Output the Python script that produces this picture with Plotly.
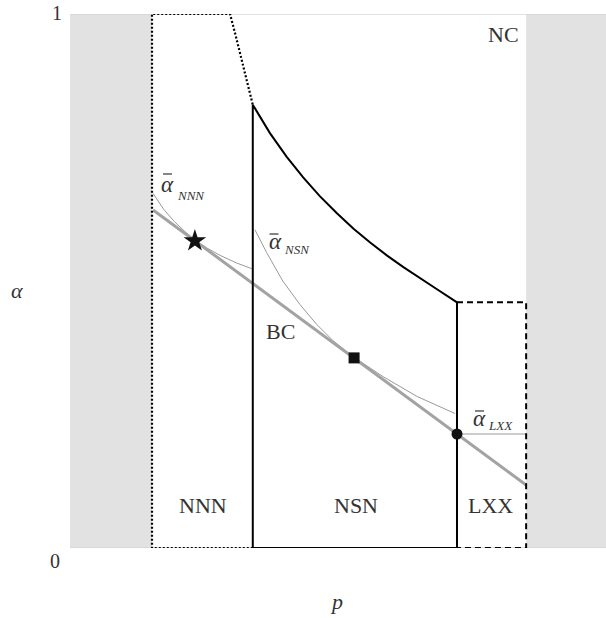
import plotly.graph_objects as go

# ---- data (p on x, alpha on y; both in [0,1]) ----
grey_left = [0.0, 0.153]
grey_right = [0.851, 1.0]

# NNN region outline (dotted)
nnn_p = [0.341, 0.153, 0.153, 0.2985, 0.309, 0.320, 0.3305, 0.341]
nnn_a = [0.0, 0.0, 1.0, 1.0, 0.960, 0.915, 0.873, 0.830]

# NSN region outline (solid): upper boundary curve
nsn_p = [0.341, 0.373, 0.404, 0.435, 0.466, 0.498, 0.529, 0.560, 0.591, 0.622, 0.653, 0.684, 0.722]
nsn_a = [0.830, 0.777, 0.733, 0.694, 0.659, 0.627, 0.598, 0.572, 0.548, 0.526, 0.505, 0.485, 0.460]

# LXX region outline (dashed)
lxx_p = [0.722, 0.851, 0.851, 0.722]
lxx_a = [0.460, 0.460, 0.0, 0.0]

# thick grey line (BC boundary)
bc_p = [0.155, 0.851]
bc_a = [0.633, 0.118]

# thin grey curves
nnnbar_p = [0.155, 0.175, 0.195, 0.215, 0.233, 0.255, 0.280, 0.310, 0.342]
nnnbar_a = [0.664, 0.634, 0.611, 0.592, 0.577, 0.562, 0.548, 0.534, 0.522]
nsnbar_p = [0.345, 0.367, 0.397, 0.429, 0.460, 0.491, 0.530, 0.584, 0.647, 0.718]
nsnbar_a = [0.596, 0.553, 0.500, 0.456, 0.419, 0.388, 0.357, 0.321, 0.284, 0.252]
lxxbar_p = [0.722, 0.851]
lxxbar_a = [0.2135, 0.2135]

# tangency markers
star_pt = (0.233, 0.575)
square_pt = (0.530, 0.356)
circle_pt = (0.722, 0.2135)

# region labels
region_labels = ["NC", "NNN", "NSN", "LXX", "BC"]
region_label_p = [0.809, 0.248, 0.533, 0.785, 0.392]
region_label_a = [0.961, 0.079, 0.079, 0.079, 0.405]

# bar-alpha curve labels
curve_labels = ["NNN", "NSN", "LXX"]
curve_alpha_p = [0.1660, 0.3675, 0.7480]
curve_alpha_a = [0.6816, 0.5749, 0.2434]
curve_sub_p = [0.1960, 0.3955, 0.7770]
curve_sub_a = [0.6607, 0.5599, 0.2285]
curve_bar_p0 = [0.1735, 0.3722, 0.7556]
curve_bar_p1 = [0.1903, 0.3890, 0.7724]
curve_bar_a = [0.7004, 0.5880, 0.2566]

FONT = "Liberation Serif, Times New Roman, serif"
TXT = "#333333"

fig = go.Figure()

def line(x, y, color="black", width=2, dash="solid"):
    fig.add_trace(go.Scatter(x=x, y=y, mode="lines", hoverinfo="skip",
                             line=dict(color=color, width=width, dash=dash)))

# thin grey curves
line(nnnbar_p, nnnbar_a, color="#9a9a9a", width=1)
line(nsnbar_p, nsnbar_a, color="#9a9a9a", width=1)
line(lxxbar_p, lxxbar_a, color="#9a9a9a", width=1)
# thick grey line
line(bc_p, bc_a, color="#a3a3a3", width=3)

# region outlines
line(nnn_p, nnn_a, dash="2px,2px", width=2.2)
line(lxx_p, lxx_a, dash="6px,4px", width=2)
line([nsn_p[0]] + nsn_p + [nsn_p[-1], nsn_p[0]],
     [0.0] + nsn_a + [0.0, 0.0],
     width=2)

# markers
fig.add_trace(go.Scatter(x=[star_pt[0]], y=[star_pt[1]], mode="markers", hoverinfo="skip",
                         marker=dict(symbol="star", size=17, color="#111111")))
fig.add_trace(go.Scatter(x=[square_pt[0]], y=[square_pt[1]], mode="markers", hoverinfo="skip",
                         marker=dict(symbol="square", size=11, color="#111111")))
fig.add_trace(go.Scatter(x=[circle_pt[0]], y=[circle_pt[1]], mode="markers", hoverinfo="skip",
                         marker=dict(symbol="circle", size=11, color="#111111")))

shapes = [
    dict(type="rect", x0=grey_left[0], x1=grey_left[1], y0=0, y1=1, xref="x", yref="y",
         fillcolor="#e2e2e2", line=dict(width=0), layer="below"),
    dict(type="rect", x0=grey_right[0], x1=grey_right[1], y0=0, y1=1, xref="x", yref="y",
         fillcolor="#e2e2e2", line=dict(width=0), layer="below"),
    dict(type="line", x0=0, x1=1, y0=1, y1=1, xref="x", yref="y",
         line=dict(color="#d6d6d6", width=1.5), layer="below"),
    dict(type="line", x0=0, x1=1, y0=0, y1=0, xref="x", yref="y",
         line=dict(color="#d6d6d6", width=1.5), layer="below"),
]
for i in range(len(curve_labels)):
    shapes.append(dict(type="line", xref="x", yref="y",
                       x0=curve_bar_p0[i], x1=curve_bar_p1[i],
                       y0=curve_bar_a[i], y1=curve_bar_a[i],
                       line=dict(color="#444444", width=1.3)))

def ann(x, y, text, size=22, xanchor="center", yanchor="middle", ref="x"):
    return dict(x=x, y=y, text=text, showarrow=False, xref=ref, yref=ref.replace("x", "y"),
                xanchor=xanchor, yanchor=yanchor,
                font=dict(family=FONT, size=size, color=TXT))

annotations = []
for t, x, y in zip(region_labels, region_label_p, region_label_a):
    annotations.append(ann(x, y, t))
for i, t in enumerate(curve_labels):
    annotations.append(ann(curve_alpha_p[i], curve_alpha_a[i], "<i>α</i>", size=23, xanchor="left"))
    annotations.append(ann(curve_sub_p[i], curve_sub_a[i], "<i>" + t + "</i>", size=13, xanchor="left"))

annotations += [
    ann(-0.0112, 1.0019, "1", size=20, xanchor="right", ref="paper"),
    ann(-0.0149, -0.0243, "0", size=20, xanchor="right", ref="paper"),
    ann(-0.0989, 0.4831, "<i>α</i>", size=22, ref="paper"),
    ann(0.4963, -0.0993, "<i>p</i>", size=22, ref="paper"),
]

fig.update_layout(
    width=606, height=618,
    margin=dict(l=70, r=0, t=14, b=70),
    plot_bgcolor="white", paper_bgcolor="white",
    showlegend=False,
    hovermode=False,
    shapes=shapes,
    annotations=annotations,
    xaxis=dict(range=[0, 1], showgrid=False, zeroline=False, showticklabels=False,
               showline=False, ticks="", fixedrange=True),
    yaxis=dict(range=[0, 1], showgrid=False, zeroline=False, showticklabels=False,
               showline=False, ticks="", fixedrange=True),
)

fig.write_html("out.html", config={"displayModeBar": False, "staticPlot": True},
               post_script="document.body.style.margin='0px';")
